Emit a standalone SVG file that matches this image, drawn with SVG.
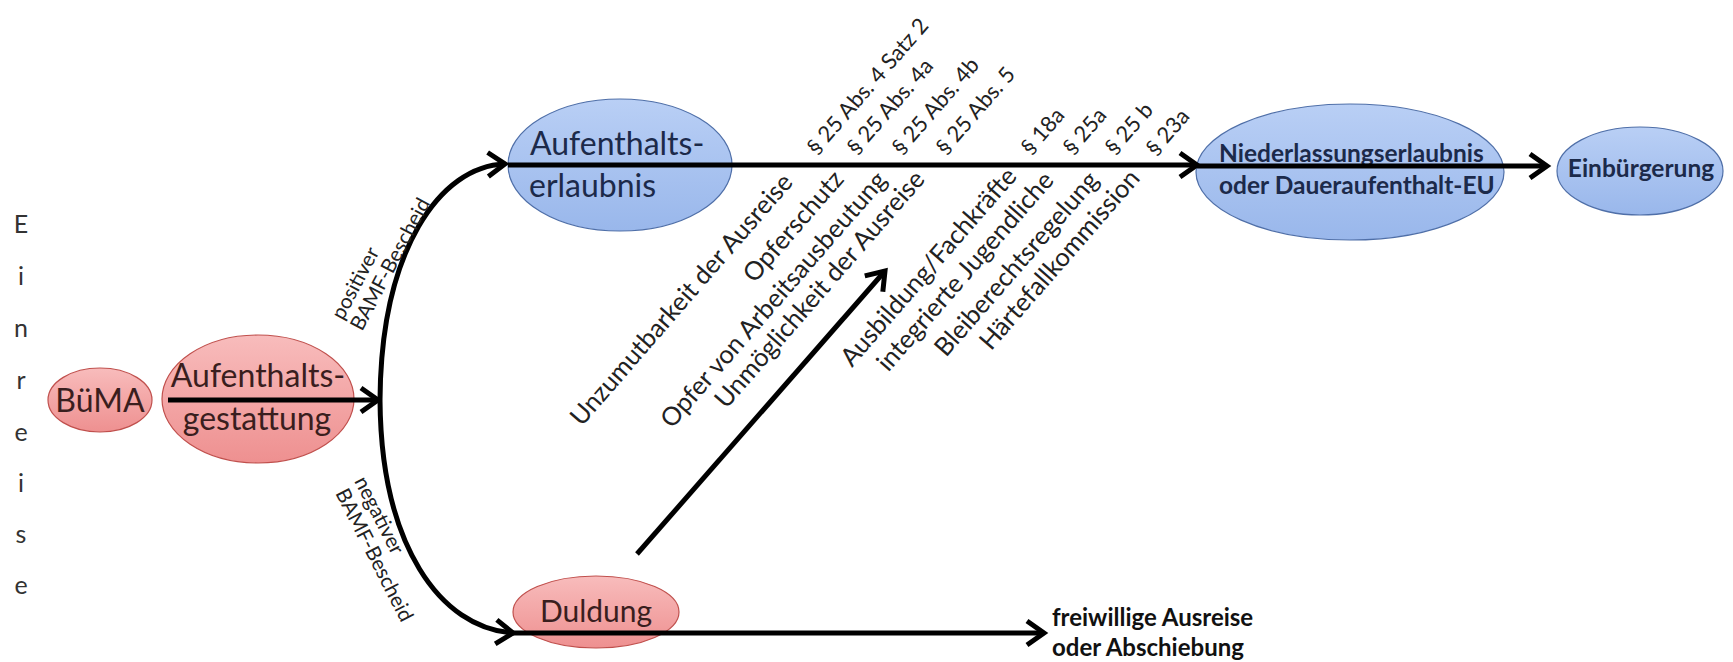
<svg xmlns="http://www.w3.org/2000/svg" width="1733" height="662" viewBox="0 0 1733 662">
<style>
text{font-family:Lato,"Noto Sans","Liberation Sans",sans-serif;}
.pink{fill:url(#gPink);stroke:#c0504d;stroke-width:1.2;}
.blue{fill:url(#gBlue);stroke:#4f6fa8;stroke-width:1.2;}
.tp{fill:#3a1e1e;font-size:32px;}
.tb{fill:#1c2a4a;font-size:32px;}
.tbb{fill:#1c2a4a;font-size:24.5px;font-weight:bold;}
.tout{fill:#111;font-size:24px;font-weight:bold;}
.lab{fill:#222;font-size:25.5px;}
.par{fill:#222;font-size:22px;}
.small{fill:#222;font-size:20.5px;}
.ein{fill:#333;font-size:25px;text-anchor:middle;}
.ln{fill:none;stroke:#000;stroke-width:5;}
.arr{marker-end:url(#arrow);}
</style>
<defs>
<linearGradient id="gPink" x1="0" y1="0" x2="0" y2="1">
<stop offset="0" stop-color="#f8bcbc"/><stop offset="1" stop-color="#ee9090"/>
</linearGradient>
<linearGradient id="gBlue" x1="0" y1="0" x2="0" y2="1">
<stop offset="0" stop-color="#b9cff5"/><stop offset="1" stop-color="#99b7eb"/>
</linearGradient>
<marker id="arrow" markerUnits="userSpaceOnUse" viewBox="0 0 30 30" markerWidth="30" markerHeight="30" refX="24" refY="15" orient="auto">
<path d="M7,3 L24,15 L7,27" fill="none" stroke="#000" stroke-width="5"/>
</marker>
</defs>

<g id="n-einreise">
<text class="ein"><tspan x="21" y="233">E</tspan><tspan x="21" y="285">i</tspan><tspan x="21" y="337">n</tspan><tspan x="21" y="389">r</tspan><tspan x="21" y="441">e</tspan><tspan x="21" y="492">i</tspan><tspan x="21" y="543">s</tspan><tspan x="21" y="594">e</tspan></text>
</g>

<g id="n-buma">
<ellipse class="pink" cx="100" cy="400" rx="52" ry="32"/>
<text class="tp" x="100" y="412" text-anchor="middle">BüMA</text>
</g>

<g id="n-gestattung">
<ellipse class="pink" cx="258" cy="399" rx="96" ry="64"/>
<text class="tp" x="258" y="387" text-anchor="middle">Aufenthalts-</text>
<text class="tp" x="257" y="430" text-anchor="middle">gestattung</text>
</g>

<g id="n-erlaubnis">
<ellipse class="blue" cx="620" cy="165" rx="112" ry="66"/>
<text class="tb" x="530" y="155">Aufenthalts-</text>
<text class="tb" x="529" y="197">erlaubnis</text>
</g>

<g id="n-niederlassung">
<ellipse class="blue" cx="1350" cy="172" rx="154" ry="68"/>
<text class="tbb" x="1219" y="162">Niederlassungserlaubnis</text>
<text class="tbb" x="1219" y="194">oder Daueraufenthalt-EU</text>
</g>

<g id="n-einbuergerung">
<ellipse class="blue" cx="1640" cy="171" rx="83" ry="44"/>
<text class="tbb" x="1641" y="177" text-anchor="middle">Einbürgerung</text>
</g>

<g id="n-duldung">
<ellipse class="pink" cx="596" cy="612" rx="83" ry="36"/>
<text class="tp" x="596" y="622" text-anchor="middle" style="font-size:30px">Duldung</text>
</g>

<g id="n-ausreise">
<text class="tout" x="1052" y="626">freiwillige Ausreise</text>
<text class="tout" x="1052" y="656">oder Abschiebung</text>
</g>

<g id="connectors">
<path class="ln arr" d="M168,400 L378,400"/>
<path class="ln arr" d="M380,400 C381,250 440,166 505,164"/>
<path class="ln arr" d="M380,400 C381,545 440,628 513,633"/>
<path class="ln arr" d="M508,165 L1197,165"/>
<path class="ln arr" d="M1197,166 L1547,166"/>
<path class="ln arr" d="M513,633 L1044,633"/>
<path class="ln arr" d="M637,554 L885,271"/>
</g>

<g id="labels">
<text class="small" transform="translate(343,321) rotate(-62)">positiver</text>
<text class="small" transform="translate(362,332) rotate(-62)">BAMF-Bescheid</text>
<text class="small" transform="translate(354,481) rotate(63)">negativer</text>
<text class="small" transform="translate(335,493) rotate(63)">BAMF-Bescheid</text>

<text class="par" transform="translate(817,156) rotate(-49)">§ 25 Abs. 4 Satz 2</text>
<text class="par" transform="translate(857,156) rotate(-49)">§ 25 Abs. 4a</text>
<text class="par" transform="translate(902,156) rotate(-49)">§ 25 Abs. 4b</text>
<text class="par" transform="translate(946,156) rotate(-49)">§ 25 Abs. 5</text>
<text class="par" transform="translate(1031,156) rotate(-49)">§ 18a</text>
<text class="par" transform="translate(1073,156) rotate(-49)">§ 25a</text>
<text class="par" transform="translate(1115,156) rotate(-49)">§ 25 b</text>
<text class="par" transform="translate(1156,157) rotate(-49)">§ 23a</text>

<text class="lab" text-anchor="end" transform="translate(794,183) rotate(-49)">Unzumutbarkeit der Ausreise</text>
<text class="lab" text-anchor="end" transform="translate(845,180) rotate(-49)">Opferschutz</text>
<text class="lab" text-anchor="end" transform="translate(888,181) rotate(-49)">Opfer von Arbeitsausbeutung</text>
<text class="lab" text-anchor="end" transform="translate(926,180) rotate(-49)">Unmöglichkeit der Ausreise</text>
<text class="lab" text-anchor="end" transform="translate(1018,177) rotate(-49)">Ausbildung/Fachkräfte</text>
<text class="lab" text-anchor="end" transform="translate(1055,181) rotate(-49)">integrierte Jugendliche</text>
<text class="lab" text-anchor="end" transform="translate(1100,181) rotate(-49)">Bleiberechtsregelung</text>
<text class="lab" text-anchor="end" transform="translate(1141,179) rotate(-49)">Härtefallkommission</text>
</g>
</svg>
